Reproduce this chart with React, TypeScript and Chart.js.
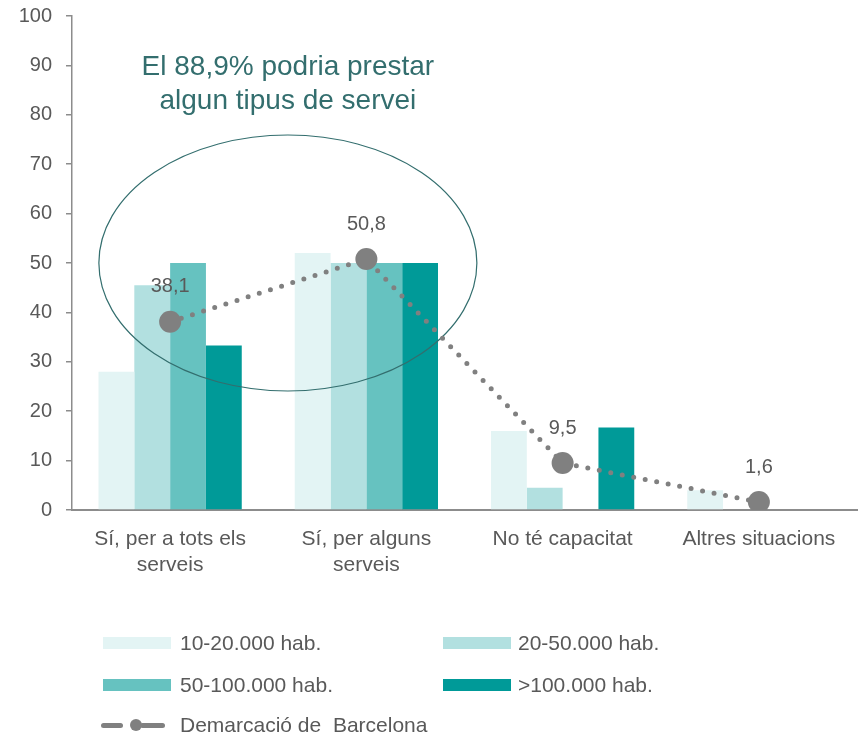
import React, { useEffect, useRef } from "react";
import { Chart, registerables } from "chart.js";

Chart.register(...registerables);

const categories: (string | string[])[] = [
  ["Sí, per a tots els", "serveis"],
  ["Sí, per alguns", "serveis"],
  "No té capacitat",
  "Altres situacions",
];
const seriesNames = ["10-20.000 hab.", "20-50.000 hab.", "50-100.000 hab.", ">100.000 hab."];
const series10to20 = [28, 52, 16, 4];
const series20to50 = [45.5, 50, 4.5, 0];
const series50to100 = [50, 50, 0, 0];
const seriesOver100 = [33.3, 50, 16.7, 0];
const lineName = "Demarcació de  Barcelona";
const lineValues = [38.1, 50.8, 9.5, 1.6];
const annotationLines = ["El 88,9% podria prestar", "algun tipus de servei"];
const yMin = 0;
const yMax = 100;
const yStep = 10;

const barColors = ["#e3f4f4", "#b2e0e0", "#66c2c0", "#009a98"];
const lineColor = "#808080";
const textColor = "#595959";
const axisColor = "#8c8c8c";
const annotColor = "#336e6e";
const FONT = "'Liberation Sans', Arial, sans-serif";

const overlayPlugin = {
  id: "overlay",
  beforeDatasetDraw(chart: any, args: any) {
    if (args.meta.type !== "line") return;
    const x = chart.scales.x;
    const y = chart.scales.y;
    const ctx = chart.ctx;
    const x0 = x.getPixelForValue(0);
    const x1 = x.getPixelForValue(1);
    const cx = x0 + (x1 - x0) * 0.6;
    const cy = y.getPixelForValue(50);
    ctx.save();
    ctx.beginPath();
    ctx.ellipse(cx, cy, 189, 128, 0, 0, Math.PI * 2);
    ctx.strokeStyle = annotColor;
    ctx.lineWidth = 1.2;
    ctx.stroke();
    ctx.restore();
  },
  afterDatasetsDraw(chart: any) {
    const x = chart.scales.x;
    const y = chart.scales.y;
    const ctx = chart.ctx;
    ctx.save();
    const x0 = x.getPixelForValue(0);
    const x1 = x.getPixelForValue(1);
    const cx = x0 + (x1 - x0) * 0.6;
    ctx.fillStyle = annotColor;
    ctx.font = `400 28px ${FONT}`;
    ctx.textAlign = "center";
    ctx.textBaseline = "middle";
    const ty = y.getPixelForValue(90) + 1.5;
    annotationLines.forEach((t, i) => ctx.fillText(t, cx, ty + i * 34));
    const meta = chart.getDatasetMeta(0);
    ctx.fillStyle = textColor;
    ctx.font = `400 20px ${FONT}`;
    meta.data.forEach((pt: any, i: number) => {
      const label = lineValues[i].toFixed(1).replace(".", ",");
      ctx.fillText(label, pt.x, pt.y - 35);
    });
    ctx.restore();
  },
};

export default function App() {
  const ref = useRef<HTMLCanvasElement>(null);
  useEffect(() => {
    if (!ref.current) return;
    const barData = [series10to20, series20to50, series50to100, seriesOver100];
    const chart = new Chart(ref.current, {
      type: "bar",
      data: {
        labels: categories,
        datasets: [
          {
            type: "line",
            label: lineName,
            data: lineValues,
            borderColor: lineColor,
            backgroundColor: lineColor,
            borderWidth: 5,
            borderDash: [0, 11.7],
            borderCapStyle: "round",
            tension: 0,
            pointRadius: 11,
            pointBackgroundColor: lineColor,
            pointBorderWidth: 0,
            order: 0,
          } as any,
          ...barData.map((d, i) => ({
            type: "bar" as const,
            label: seriesNames[i],
            data: d,
            backgroundColor: barColors[i],
            borderWidth: 0,
            barPercentage: 1,
            categoryPercentage: 0.73,
            order: 1,
          })),
        ],
      },
      options: {
        responsive: false,
        animation: false,
        devicePixelRatio: 1,
        layout: { padding: { top: 16, right: 10, left: 0, bottom: 0 } },
        plugins: { legend: { display: false }, tooltip: { enabled: false } },
        scales: {
          x: {
            grid: { display: false, drawTicks: false },
            border: { display: true, color: axisColor, width: 2 },
            ticks: {
              color: textColor,
              font: { family: FONT, size: 21, lineHeight: 1.25 } as any,
              padding: 16,
              maxRotation: 0,
              autoSkip: false,
            },
            afterFit: (s: any) => {
              s.height = 225;
              s.paddingLeft = 0;
              s.paddingRight = 0;
            },
          },
          y: {
            min: yMin,
            max: yMax,
            grid: { drawOnChartArea: false, drawTicks: true, tickLength: 6, color: axisColor, lineWidth: 1.5 },
            border: { display: true, color: axisColor, width: 1.5 },
            ticks: {
              stepSize: yStep,
              color: textColor,
              font: { family: FONT, size: 20 } as any,
              padding: 14,
            },
            afterFit: (s: any) => {
              s.width = 72;
              s.paddingTop = 0;
              s.paddingBottom = 0;
            },
          },
        },
      },
      plugins: [overlayPlugin],
    });
    return () => chart.destroy();
  }, []);

  const legendText: React.CSSProperties = {
    position: "absolute",
    fontFamily: FONT,
    fontSize: 21,
    color: textColor,
    lineHeight: "24px",
    whiteSpace: "pre",
  };
  const rows = [643, 685];
  const cols = [
    { sw: 103, tx: 180 },
    { sw: 443, tx: 518 },
  ];
  return (
    <div style={{ position: "absolute", left: 0, top: 0, width: 868, height: 735 }}>
      <canvas ref={ref} width={868} height={735} style={{ display: "block" }} />
      {seriesNames.map((name, i) => {
        const r = rows[Math.floor(i / 2)];
        const c = cols[i % 2];
        return (
          <React.Fragment key={name}>
            <div
              style={{
                position: "absolute",
                left: c.sw,
                top: r - 6,
                width: 68,
                height: 12,
                background: barColors[i],
              }}
            />
            <div style={{ ...legendText, left: c.tx, top: r - 12 }}>{name}</div>
          </React.Fragment>
        );
      })}
      <div style={{ position: "absolute", left: 101, top: 723, width: 22, height: 5, borderRadius: 3, background: lineColor }} />
      <div style={{ position: "absolute", left: 130, top: 719, width: 12, height: 12, borderRadius: 6, background: lineColor }} />
      <div style={{ position: "absolute", left: 140, top: 723, width: 25, height: 5, borderRadius: 3, background: lineColor }} />
      <div style={{ ...legendText, left: 180, top: 713 }}>{lineName}</div>
    </div>
  );
}
